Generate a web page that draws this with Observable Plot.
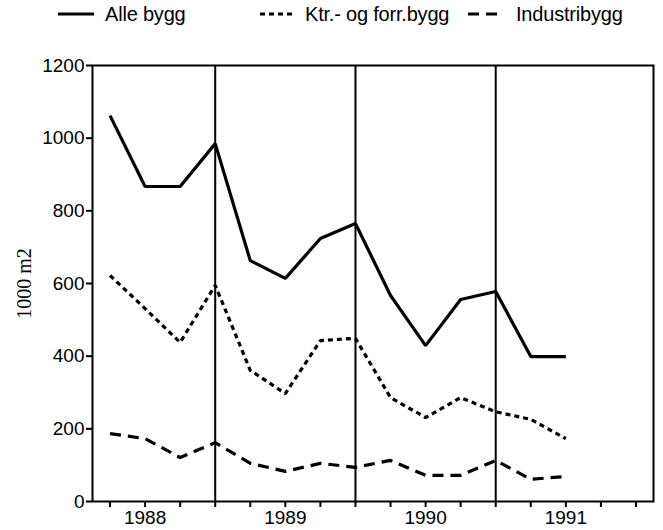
<!DOCTYPE html>
<html>
<head>
<meta charset="utf-8">
<script src="https://cdn.jsdelivr.net/npm/d3@7"></script>
<script src="https://cdn.jsdelivr.net/npm/@observablehq/plot@0.6"></script>
<style>
  body { margin: 0; background: #fff; font-family: "Liberation Sans", Arial, sans-serif; }
  #legend { position: relative; width: 663px; height: 40px; }
  #legend .item { position: absolute; top: 3px; font-size: 20px; letter-spacing: -0.2px; color: #000; line-height: 22px; }
  #legend svg { position: absolute; top: 0; }
</style>
</head>
<body>
<div id="legend"></div>
<div id="chart"></div>
<script>
// Quarterly periods 1988 Q1 .. 1991 Q2
const periods = ["1988 K1","1988 K2","1988 K3","1988 K4","1989 K1","1989 K2","1989 K3","1989 K4","1990 K1","1990 K2","1990 K3","1990 K4","1991 K1","1991 K2"];
const alleBygg = [1062, 867, 867, 985, 663, 614, 724, 765, 567, 429, 556, 578, 399, 399];
const ktrForr  = [622, 531, 438, 595, 361, 297, 443, 449, 286, 231, 286, 247, 226, 173];
const industri = [187, 173, 121, 162, 105, 83, 105, 94, 113, 72, 72, 113, 61, 69];

const seriesNames = ["Alle bygg", "Ktr.- og forr.bygg", "Industribygg"];
const yearLabels = ["1988", "1989", "1990", "1991"];
const yearLabelQuarter = [1, 5, 9, 13];   // quarter index where year label sits
const yearBreakQuarter = [3, 7, 11];      // vertical rules at 4th quarter
const yTicks = [0, 200, 400, 600, 800, 1000, 1200];
const yLabel = "1000 m2";

const dashes = ["none", "5,4", "11,7"];
const allSeries = [alleBygg, ktrForr, industri];

const data = [];
allSeries.forEach((vals, s) => vals.forEach((v, i) => data.push({series: seriesNames[s], q: i, period: periods[i], value: v})));

// Legend
const legend = document.getElementById("legend");
const legendPos = [[58, 105], [260, 305], [468, 516]];
seriesNames.forEach((name, s) => {
  const [lx, tx] = legendPos[s];
  const sw = document.createElementNS("http://www.w3.org/2000/svg", "svg");
  sw.setAttribute("width", 38); sw.setAttribute("height", 28);
  sw.style.left = lx + "px";
  const ln = document.createElementNS("http://www.w3.org/2000/svg", "line");
  ln.setAttribute("x1", 0); ln.setAttribute("x2", 36); ln.setAttribute("y1", 14); ln.setAttribute("y2", 14);
  ln.setAttribute("stroke", "#000"); ln.setAttribute("stroke-width", 3.2);
  if (dashes[s] !== "none") ln.setAttribute("stroke-dasharray", dashes[s]);
  sw.appendChild(ln);
  legend.appendChild(sw);
  const t = document.createElement("div");
  t.className = "item"; t.style.left = tx + "px"; t.textContent = name;
  legend.appendChild(t);
});

const xTicks = d3.range(0, 16);
const chart = Plot.plot({
  width: 663,
  height: 490,
  marginLeft: 92,
  marginRight: 10,
  marginTop: 25,
  marginBottom: 29,
  style: {fontFamily: "Liberation Sans, Arial, sans-serif", fontSize: "19px", color: "#000", background: "#fff"},
  x: {domain: [-0.5, 15.5]},
  y: {domain: [0, 1200]},
  marks: [
    Plot.frame({stroke: "#000", strokeWidth: 2}),
    Plot.ruleX(yearBreakQuarter, {stroke: "#000", strokeWidth: 2}),
    Plot.axisY({ticks: yTicks, tickSize: 6, tickPadding: 2, strokeWidth: 2, label: null, fontSize: 19,
      tickFormat: d3.format("d"), style: {letterSpacing: "-0.6px"}}),
    Plot.axisX({ticks: xTicks, tickSize: 6, tickPadding: 3, strokeWidth: 2, label: null, fontSize: 19,
      tickFormat: d => { const k = yearLabelQuarter.indexOf(d); return k >= 0 ? yearLabels[k] : ""; }}),
    Plot.text([yLabel], {frameAnchor: "left", textAnchor: "middle", dx: -68, rotate: -90, fontFamily: "Liberation Serif, serif", fontSize: 20, fill: "black"}),
    ...seriesNames.map((name, s) => Plot.line(data.filter(d => d.series === name), {
      x: "q", y: "value", stroke: "#000", strokeWidth: 3.2,
      strokeDasharray: dashes[s] === "none" ? undefined : dashes[s], strokeLinejoin: "miter", strokeLinecap: "butt"
    }))
  ]
});
document.getElementById("chart").appendChild(chart);
</script>
</body>
</html>
